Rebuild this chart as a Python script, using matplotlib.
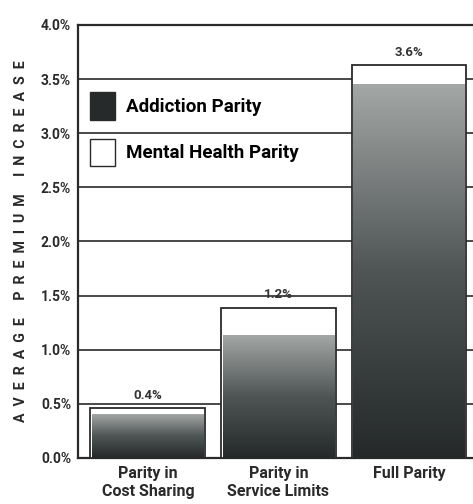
import numpy as np
import matplotlib
matplotlib.use("Agg")
import matplotlib.pyplot as plt
from matplotlib.colors import LinearSegmentedColormap
from matplotlib.patches import Patch
import matplotlib.ticker as ticker

plt.rcParams['font.family'] = ['Roboto', 'DejaVu Sans']

categories = ["Parity in\nCost Sharing", "Parity in\nService Limits", "Full Parity"]
addiction = [0.40, 1.13, 3.45]       # dark gradient part, % premium increase
mental_health = [0.46, 1.39, 3.63]   # total height incl. white part
bar_labels = ["0.4%", "1.2%", "3.6%"]
yticks = [0.0, 0.5, 1.0, 1.5, 2.0, 2.5, 3.0, 3.5, 4.0]

fig = plt.figure(figsize=(4.73, 5.04), dpi=100)
ax = fig.add_axes([0.165, 0.0913, 0.835, 0.8591])

x = np.arange(len(categories))
width = 0.88
cmap = LinearSegmentedColormap.from_list("grad", ["#252929", "#4f5454", "#a3a7a6"])
grad = np.linspace(0, 1, 256).reshape(-1, 1)

for xi, a, m, lab in zip(x, addiction, mental_health, bar_labels):
    # white mental health outline bar
    ax.bar(xi, m, width, color="white", edgecolor="#2a2a2a", linewidth=1.3, zorder=3)
    # gradient addiction bar
    ax.imshow(grad, cmap=cmap, origin="lower", aspect="auto",
              extent=[xi - width / 2 + 0.012, xi + width / 2 - 0.012, 0, a], zorder=4)
    ax.text(xi, m + 0.06, lab, ha="center", va="bottom", fontsize=9.5, fontweight="bold",
            color="#333333", zorder=5)

ax.set_xlim(-0.535, 2.49)
ax.set_ylim(0, 4.0)
ax.set_yticks(yticks)
ax.yaxis.set_major_formatter(ticker.FormatStrFormatter('%.1f%%'))
ax.set_xticks(x)
ax.set_xticklabels(categories, fontsize=11.5, fontweight="bold", color="#2a2a2a", linespacing=1.2)
ax.tick_params(axis='y', labelsize=10, length=0, pad=5, labelcolor="#2a2a2a")
ax.tick_params(axis='x', length=0, pad=6)
for t in ax.get_yticklabels():
    t.set_fontweight("bold")

ax.grid(axis='y', color="#3a3a3a", linewidth=1.3, zorder=1)
ax.set_axisbelow(True)
for side in ["left", "top", "bottom"]:
    ax.spines[side].set_linewidth(1.6)
    ax.spines[side].set_color("#2a2a2a")
ax.spines["right"].set_visible(False)

ax.set_ylabel("A  V  E  R  A  G  E     P  R  E  M  I  U  M     I  N  C  R  E  A  S  E", fontsize=10.2,
              fontweight="bold", color="#2a2a2a", labelpad=9)

handles = [Patch(facecolor="#262a2a", edgecolor="#2a2a2a", label="Addiction Parity"),
           Patch(facecolor="white", edgecolor="#2a2a2a", label="Mental Health Parity")]
ax.legend(handles=handles, loc="upper left", bbox_to_anchor=(-0.012, 0.884), frameon=False,
          handlelength=1.3, handleheight=1.9, labelspacing=1.0, handletextpad=0.6,
          prop={'weight': 'bold', 'size': 13.5})

plt.savefig("out.png", dpi=100)
